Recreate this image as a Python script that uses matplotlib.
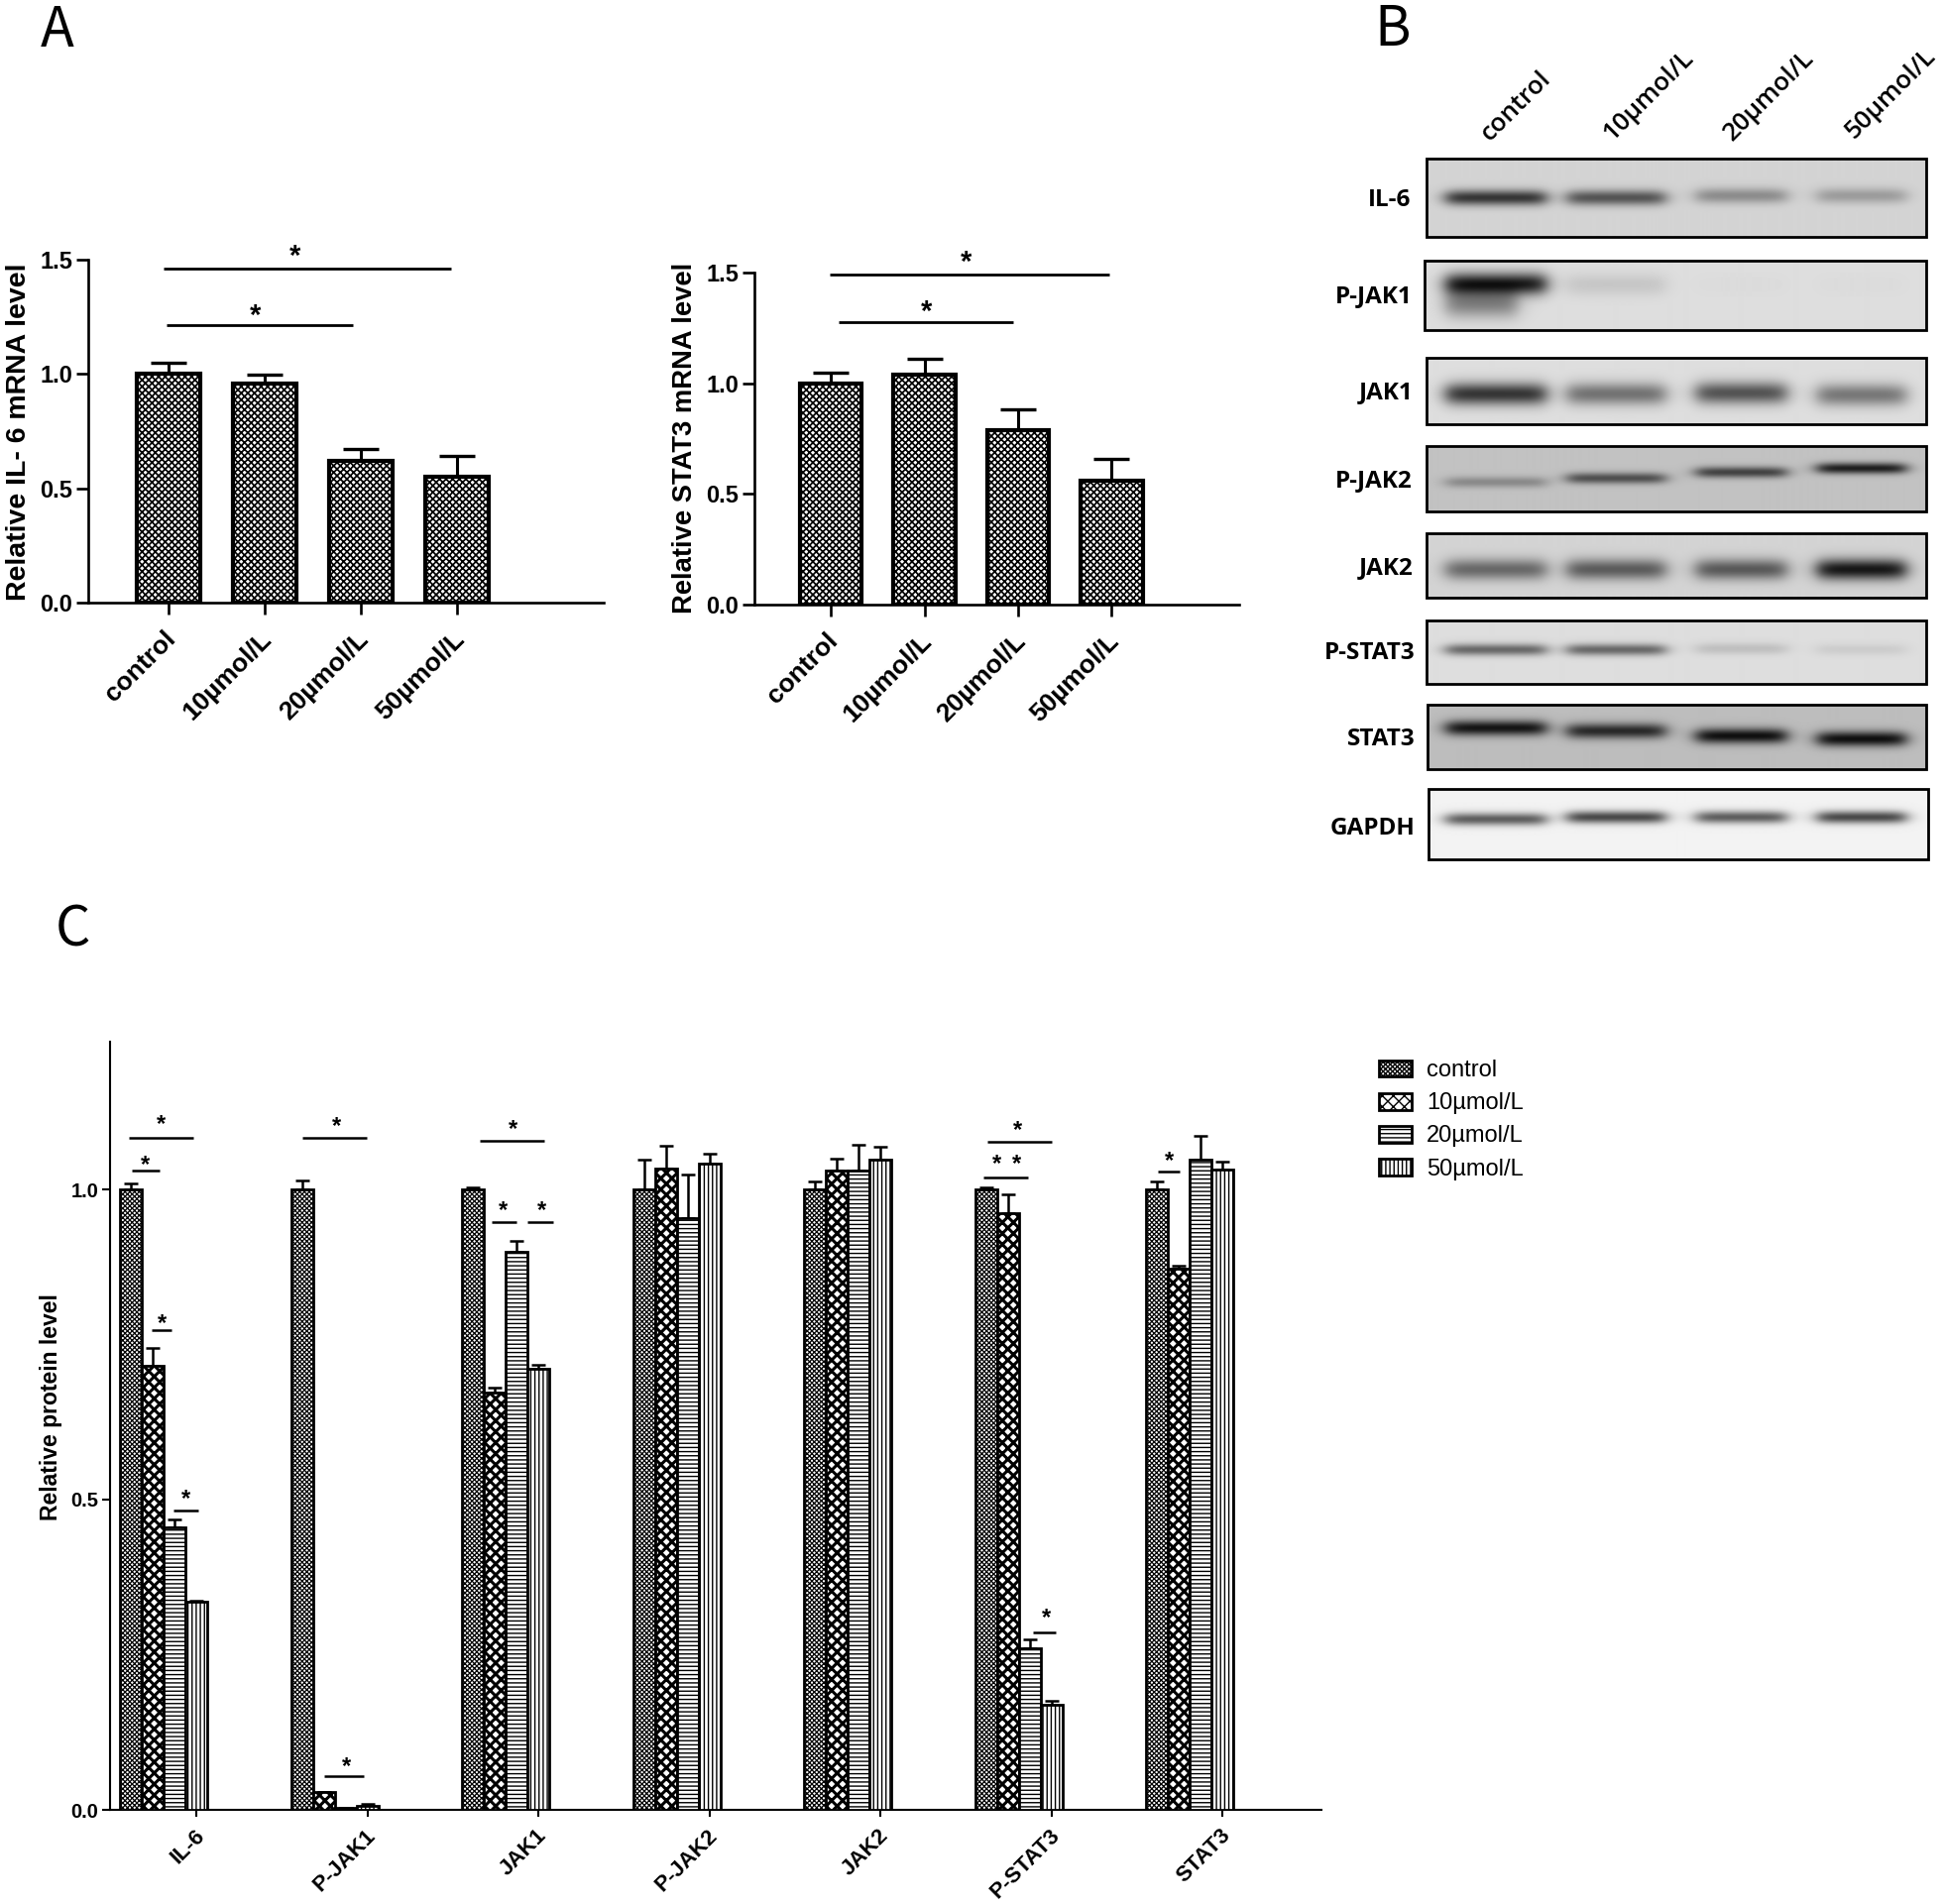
import matplotlib
matplotlib.use("Agg")
import matplotlib.pyplot as plt
import numpy as np
from matplotlib.patches import Rectangle, Patch
from matplotlib.transforms import ScaledTranslation

plt.rcParams['font.family'] = ['Liberation Sans', 'DejaVu Sans']

W, H = 1960, 1921

# Panel A
doses = ['control', '10µmol/L', '20µmol/L', '50µmol/L']
il6_mrna = [1.0, 0.96, 0.62, 0.55]
il6_mrna_top = [1.05, 0.995, 0.67, 0.64]
stat3_mrna = [1.0, 1.04, 0.79, 0.56]
stat3_mrna_top = [1.05, 1.11, 0.88, 0.66]
il6_brackets = [(-0.05, 2.94, 1.461), (-0.02, 1.92, 1.214)]
il6_stars = [(1.31, 1.514), (0.90, 1.254)]
stat3_brackets = [(-0.01, 2.97, 1.49), (0.085, 1.95, 1.276)]
stat3_stars = [(1.44, 1.547), (1.02, 1.322)]

# Panel B
blot_names = ['IL-6', 'P-JAK1', 'JAK1', 'P-JAK2', 'JAK2', 'P-STAT3', 'STAT3', 'GAPDH']
blot_bg = [0.83, 0.87, 0.87, 0.76, 0.83, 0.87, 0.74, 0.95]
band_dark = [
    [0.62, 0.50, 0.28, 0.22],
    [0.76, 0.09, 0.01, 0.01],
    [0.66, 0.42, 0.54, 0.40],
    [0.22, 0.45, 0.50, 0.64],
    [0.42, 0.47, 0.48, 0.74],
    [0.46, 0.46, 0.12, 0.07],
    [0.66, 0.58, 0.68, 0.68],
    [0.58, 0.66, 0.58, 0.66],
]

# Panel C
proteins = ['IL-6', 'P-JAK1', 'JAK1', 'P-JAK2', 'JAK2', 'P-STAT3', 'STAT3']
control = [1.0, 1.0, 1.0, 1.0, 1.0, 1.0, 1.0]
control_top = [1.01, 1.015, 1.003, 1.048, 1.013, 1.003, 1.013]
dose10 = [0.715, 0.029, 0.672, 1.033, 1.03, 0.962, 0.873]
dose10_top = [0.744, 0.029, 0.68, 1.07, 1.05, 0.992, 0.877]
dose20 = [0.455, 0.003, 0.90, 0.953, 1.03, 0.261, 1.048]
dose20_top = [0.468, 0.003, 0.917, 1.024, 1.072, 0.274, 1.087]
dose50 = [0.335, 0.007, 0.711, 1.042, 1.048, 0.169, 1.032]
dose50_top = [0.337, 0.01, 0.717, 1.057, 1.068, 0.176, 1.044]
c_brackets = [(-0.203, 0.174, 1.083), (-0.186, -0.023, 1.031), (-0.07, 0.046, 0.773),
              (0.058, 0.203, 0.483), (0.812, 1.188, 1.083), (0.939, 1.171, 0.054),
              (1.849, 2.226, 1.079), (1.919, 2.064, 0.947), (2.128, 2.278, 0.947),
              (4.817, 5.194, 1.077), (4.794, 5.055, 1.019), (5.084, 5.217, 0.286),
              (5.814, 5.942, 1.028)]
c_stars = [(-0.012, 1.104), (-0.107, 1.039), (-0.006, 0.784), (0.128, 0.501), (1.009, 1.101),
           (1.067, 0.069), (2.041, 1.096), (1.988, 0.965), (2.212, 0.965), (4.997, 1.095),
           (4.875, 1.041), (4.986, 1.041), (5.165, 0.309), (5.884, 1.045)]


def px_axes(x0, y0, x1, y1):
    return fig.add_axes([x0 / W, 1 - y1 / H, (x1 - x0) / W, (y1 - y0) / H])


def shift_labels(labels, dx_px, dy_px):
    for t in labels:
        t.set_transform(t.get_transform() + ScaledTranslation(dx_px / 100, dy_px / 100, fig.dpi_scale_trans))


fig = plt.figure(figsize=(W / 100, H / 100), dpi=100, facecolor='white')

# full figure overlay in pixel coordinates, for blots and panel letters
over = fig.add_axes([0, 0, 1, 1], zorder=5)
over.patch.set_alpha(0)
over.axis('off')


def mrna_panel(box, x_range, vals, tops, ylabel, label_x, label_y, label_size, brackets, stars):
    ax = px_axes(*box)
    ax.set_xlim(*x_range)
    ax.set_ylim(0, 1.5)
    x = np.arange(4)
    plt.rcParams['hatch.linewidth'] = 1.25
    ax.errorbar(x, vals, yerr=[np.zeros(4), np.array(tops) - np.array(vals)], fmt='none',
                ecolor='black', elinewidth=2.2, capsize=13, capthick=2.4, zorder=2)
    ax.bar(x, vals, width=0.66, facecolor='white', edgecolor='black', linewidth=3,
           hatch='xxxxx', zorder=3)
    for side in ['top', 'right']:
        ax.spines[side].set_visible(False)
    for side in ['left', 'bottom']:
        ax.spines[side].set_linewidth(1.9)
    ax.set_yticks([0, 0.5, 1.0, 1.5])
    ax.set_yticklabels(['0.0', '0.5', '1.0', '1.5'], fontsize=17, fontweight='bold')
    ax.tick_params(axis='y', length=8.5, width=1.9, pad=3)
    ax.set_xticks(x)
    ax.set_xticklabels(doses, rotation=45, ha='right', rotation_mode='anchor',
                       fontsize=19, fontweight='bold')
    ax.tick_params(axis='x', length=8.5, width=1.9, pad=9)
    shift_labels(ax.get_xticklabels(), -5, 0)
    for x0, x1, y in brackets:
        ax.plot([x0, x1], [y, y], color='black', lw=2, clip_on=False, solid_capstyle='butt')
    for sx, sy in stars:
        ax.text(sx, sy, '*', ha='center', va='center', fontsize=21, fontweight='bold', clip_on=False)
    over.text(label_x, label_y, ylabel, rotation=90, ha='center', va='center',
              fontsize=label_size, fontweight='bold')


mrna_panel((89, 262, 609, 608), (-0.835, 4.526), il6_mrna, il6_mrna_top,
           'Relative IL- 6 mRNA level', 19, 436, 20.5, il6_brackets, il6_stars)
mrna_panel((761, 275, 1250, 610), (-0.815, 4.36), stat3_mrna, stat3_mrna_top,
           'Relative STAT3 mRNA level', 691, 442, 19.7, stat3_brackets, stat3_stars)

# Panel B: blots rendered from band strengths
blot_boxes = [(1439, 160, 1943, 239), (1437, 263, 1943, 333), (1439, 361, 1943, 428),
              (1439, 450, 1943, 516), (1439, 538, 1943, 603), (1439, 626, 1943, 690),
              (1440, 711, 1943, 776), (1441, 796, 1945, 867)]
band_y = [[199, 199, 197, 197], [286, 287, 287, 287], [397, 397, 396, 398], [486, 482, 476, 472],
          [574, 574, 574, 574], [655, 655, 654, 655], [734, 737, 742, 745], [826, 824, 824, 824]]
band_sigma = [5.5, 8, 8, 4, 7.5, 4.2, 5.5, 4.5]
lanes = [(1458, 1559), (1580, 1679), (1710, 1801), (1832, 1921)]
label_right = [1423, 1425, 1425, 1425, 1425, 1427, 1428, 1427]
label_y = [202, 299, 396, 485, 573, 659, 746, 836]


def sig(v):
    return 1 / (1 + np.exp(-v / 5.0))


for i, name in enumerate(blot_names):
    x0, y0, x1, y1 = blot_boxes[i]
    xx, yy = np.meshgrid(np.arange(x0, x1), np.arange(y0, y1))
    img = np.full(xx.shape, blot_bg[i], dtype=float)
    for j, (a, b) in enumerate(lanes):
        prof = sig(xx - a) * sig(b - xx) * np.exp(-0.5 * ((yy - band_y[i][j]) / band_sigma[i]) ** 2)
        img -= band_dark[i][j] * prof
    if name == 'P-JAK1':
        # smear under the control band
        img -= 0.36 * sig(xx - 1458) * sig(1530 - xx) * np.exp(-0.5 * ((yy - 306) / 10.0) ** 2)
    over.imshow(np.clip(img, 0, 1), cmap='gray', vmin=0, vmax=1, aspect='auto',
                extent=(x0, x1, y1, y0), interpolation='bilinear')
    over.add_patch(Rectangle((x0, y0), x1 - x0, y1 - y0, fill=False, edgecolor='black', lw=2))
    over.text(label_right[i], label_y[i], name, ha='right', va='center', fontsize=17.5,
              fontweight='bold', family=['Open Sans', 'DejaVu Sans'])

dose_label_xy = [(1498, 138), (1621, 138), (1743, 138), (1866, 136)]
for (lx, ly), label in zip(dose_label_xy, doses):
    over.text(lx, ly, label, rotation=45, ha='left', va='center', rotation_mode='anchor',
              fontsize=18.5, family=['Open Sans', 'DejaVu Sans'], fontweight='semibold')

over.set_xlim(0, W)
over.set_ylim(H, 0)

# Panel letters
for letter, lx, ly in [('A', 58, 31), ('B', 1405, 30), ('C', 73, 939)]:
    over.text(lx, ly, letter, ha='center', va='center', fontsize=40,
              family=['Noto Sans CJK SC', 'DejaVu Sans'])

# Panel C
axc = px_axes(111, 1051, 1333, 1826)
axc.set_xlim((111 - 165) / 172.5, (1333 - 165) / 172.5)
axc.set_ylim(0, (1826 - 1051) / 626)
bar_w = 22 / 172.5
xc = np.arange(len(proteins))
series = [(control, control_top, 'xxxxxxx', 0.9), (dose10, dose10_top, 'xxx', 2.2),
          (dose20, dose20_top, '----', 1.0), (dose50, dose50_top, '||||', 1.0)]
for k, (vals, tops, hatch, hlw) in enumerate(series):
    plt.rcParams['hatch.linewidth'] = hlw
    pos = xc + (k - 1.5) * bar_w
    axc.errorbar(pos, vals, yerr=[np.zeros(7), np.array(tops) - np.array(vals)], fmt='none',
                 ecolor='black', elinewidth=1.8, capsize=5, capthick=1.8, zorder=2)
    axc.bar(pos, vals, width=bar_w, facecolor='white', edgecolor='black', linewidth=2,
            hatch=hatch, zorder=3)
for side in ['top', 'right']:
    axc.spines[side].set_visible(False)
for side in ['left', 'bottom']:
    axc.spines[side].set_linewidth(1.5)
axc.set_yticks([0, 0.5, 1.0])
axc.set_yticklabels(['0.0', '0.5', '1.0'], fontsize=14.5, fontweight='bold')
axc.tick_params(axis='y', length=5.5, width=1.5, pad=3)
axc.set_xticks(xc + 1.5 * bar_w)
axc.set_xticklabels(proteins, rotation=45, ha='right', rotation_mode='anchor',
                    fontsize=16, fontweight='bold')
axc.tick_params(axis='x', length=5, width=1.5, pad=6)
shift_labels(axc.get_xticklabels(), -2, 0)
for x0, x1, y in c_brackets:
    axc.plot([x0, x1], [y, y], color='black', lw=1.8, clip_on=False, solid_capstyle='butt', zorder=4)
for sx, sy in c_stars:
    axc.text(sx, sy, '*', ha='center', va='center', fontsize=17, fontweight='bold', zorder=4)
over.text(51, 1420, 'Relative protein level', rotation=90, ha='center', va='center',
          fontsize=16.5, fontweight='bold')

handles = []
for (vals, tops, hatch, hlw), label in zip(series, doses):
    plt.rcParams['hatch.linewidth'] = hlw
    handles.append(Patch(facecolor='white', edgecolor='black', linewidth=2, hatch=hatch, label=label))
over.legend(handles=handles, loc='upper left', bbox_to_anchor=(1370, 1048),
            bbox_transform=over.transData, frameon=False, fontsize=17,
            handlelength=1.4, handleheight=0.72, handletextpad=0.62, labelspacing=0.47)

fig.savefig('out.png', dpi=100)
